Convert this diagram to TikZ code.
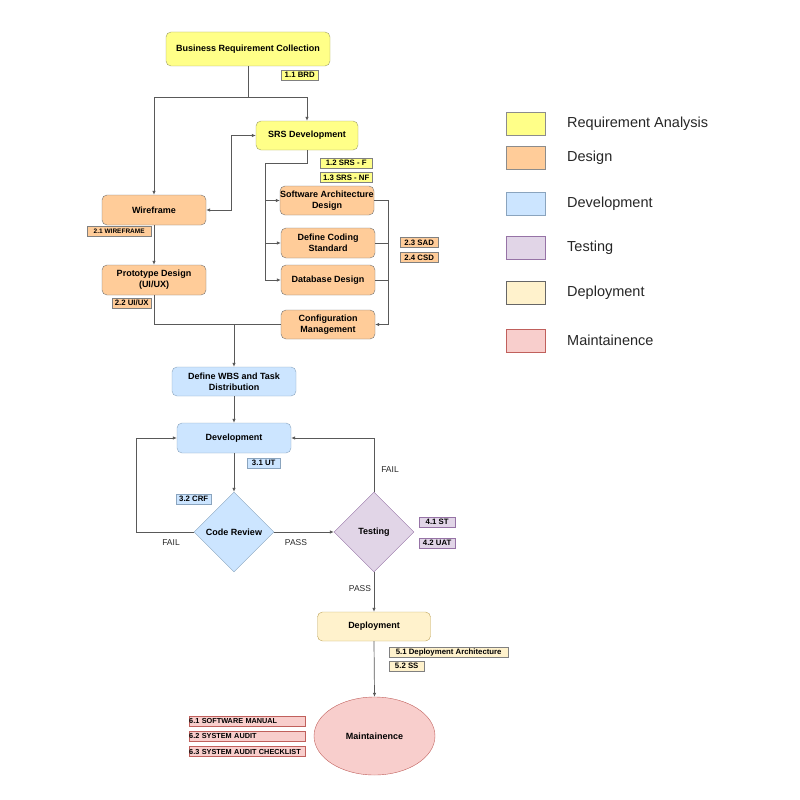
\documentclass[tikz,border=0pt]{standalone}
\usepackage{fontspec}
\setmainfont{Liberation Sans}
\usepackage{tikz}
\usetikzlibrary{arrows.meta,shapes.geometric}

\definecolor{gelb}{HTML}{FFFF88}
\definecolor{orange}{HTML}{FFCC99}
\definecolor{blau}{HTML}{CCE5FF}
\definecolor{lila}{HTML}{E1D5E7}
\definecolor{creme}{HTML}{FFF2CC}
\definecolor{rosa}{HTML}{F8CECC}
\definecolor{randgelb}{HTML}{9E9E6A}
\definecolor{randblau}{HTML}{8AA4BE}
\definecolor{randlila}{HTML}{9673A6}
\definecolor{randcreme}{HTML}{BFA45A}
\definecolor{randrosa}{HTML}{C0605C}

\begin{document}
\begin{tikzpicture}[x=1pt,y=-1pt,
  box/.style={draw=black!55, rounded corners=5pt, align=center, inner sep=0pt,
    font=\bfseries\fontsize{9}{11}\selectfont},
  tag/.style={draw=black!50, anchor=west, inner sep=0pt, minimum height=10pt,
    font=\bfseries\fontsize{7.8}{8}\selectfont},
  tagsechs/.style={tag, fill=rosa, draw=randrosa, minimum width=116pt, text width=116pt, align=left,
    font=\bfseries\fontsize{7.3}{8}\selectfont},
  beschr/.style={font=\fontsize{8.5}{9}\selectfont, text=black!85},
  line/.style={draw=black!65, line width=0.7pt},
  pfeil/.style={line, -{Latex[length=4pt,width=3.5pt]}},
  key/.style={minimum width=39pt, minimum height=23pt, inner sep=0pt},
]
\useasboundingbox (0,0) rectangle (800,800);

%Anforderungen
\node[box, fill=gelb, draw=randgelb, minimum width=164pt, minimum height=34pt] (brc) at (248,49) {Business Requirement Collection};
\node[tag, fill=gelb, minimum width=37pt] (brd) at (281,75) {1.1 BRD};
\node[box, fill=gelb, draw=randgelb, minimum width=102pt, minimum height=29pt] (srs) at (307,135.5) {SRS Development};
\node[tag, fill=gelb, minimum width=52pt] (srsf) at (320,163) {1.2 SRS - F};
\node[tag, fill=gelb, minimum width=52pt] (srsnf) at (320,177.5) {1.3 SRS - NF};

%Design
\node[box, fill=orange, minimum width=104pt, minimum height=30pt] (wire) at (154,210) {Wireframe};
\node[tag, fill=orange, minimum width=64pt, font=\bfseries\fontsize{6.5}{7}\selectfont] (wiretag) at (87,231.5) {2.1 WIREFRAME};
\node[box, fill=orange, minimum width=104pt, minimum height=30pt] (proto) at (154,280) {Prototype Design\\(UI/UX)};
\node[tag, fill=orange, minimum width=39pt] (uitag) at (112,303) {2.2 UI/UX};
\node[box, fill=orange, minimum width=94pt, minimum height=29pt] (sad) at (327,200.5) {Software Architecture\\Design};
\node[box, fill=orange, minimum width=94pt, minimum height=30pt] (dcs) at (328,243) {Define Coding\\Standard};
\node[box, fill=orange, minimum width=94pt, minimum height=30pt] (dbd) at (328,280) {Database Design};
\node[box, fill=orange, minimum width=94pt, minimum height=29pt] (cm) at (328,324.5) {Configuration\\Management};
\node[tag, fill=orange, minimum width=38pt] (sadtag) at (400,242.5) {2.3 SAD};
\node[tag, fill=orange, minimum width=38pt] (csdtag) at (400,257.5) {2.4 CSD};

%Entwicklung
\node[box, fill=blau, draw=randblau, minimum width=124pt, minimum height=29pt] (wbs) at (234,381.5) {Define WBS and Task\\Distribution};
\node[box, fill=blau, draw=randblau, minimum width=114pt, minimum height=30pt] (dev) at (234,438) {Development};
\node[tag, fill=blau, draw=randblau, minimum width=33pt] (ut) at (247,463) {3.1 UT};
\node[tag, fill=blau, draw=randblau, minimum width=35pt] (crf) at (176,499) {3.2 CRF};
\node[diamond, draw=randblau, fill=blau, minimum width=80pt, minimum height=80pt, inner sep=0pt,
  font=\bfseries\fontsize{9}{11}\selectfont] (cr) at (234,532) {Code Review};

%Test
\node[diamond, draw=randlila, fill=lila, minimum width=80pt, minimum height=80pt, inner sep=0pt,
  font=\bfseries\fontsize{9}{11}\selectfont] (test) at (374,532) {Testing};
\node[tag, fill=lila, draw=randlila, minimum width=36pt] (st) at (419,522) {4.1 ST};
\node[tag, fill=lila, draw=randlila, minimum width=36pt] (uat) at (419,543) {4.2 UAT};

%Deployment und Wartung
\node[box, fill=creme, draw=randcreme, minimum width=113pt, minimum height=29pt] (depl) at (374,626.5) {Deployment};
\node[tag, fill=creme, minimum width=119pt] (dparch) at (389,652) {5.1 Deployment Architecture};
\node[tag, fill=creme, minimum width=35pt] (ss) at (389,666) {5.2 SS};
\node[ellipse, draw=randrosa, fill=rosa, minimum width=121pt, minimum height=78pt, inner sep=0pt,
  font=\bfseries\fontsize{9}{11}\selectfont] (maint) at (374.5,736) {Maintainence};
\node[tagsechs] (sm) at (189,721) {6.1 SOFTWARE MANUAL};
\node[tagsechs] (sa) at (189,736) {6.2 SYSTEM AUDIT};
\node[tagsechs] (sac) at (189,751.5) {6.3 SYSTEM AUDIT CHECKLIST};

%Verbindungen
\coordinate (j1) at (248,97);
\draw[line] (brc.south) -- (j1);
\draw[pfeil] (j1) -| (srs.north);
\draw[pfeil] (j1) -| (wire.north);
\draw[line, {Latex[length=4pt,width=3.5pt]}-{Latex[length=4pt,width=3.5pt]}] (wire.east) -- ++(25,0) |- (srs.west);
\coordinate (j2) at (265,163);
\draw[line] (srs.south) |- (j2);
\draw[pfeil] (j2) |- (sad.west);
\draw[pfeil] (j2) |- (dcs.west);
\draw[pfeil] (j2) |- (dbd.west);
\draw[pfeil] (sad.east) -- ++(14,0) |- (cm.east);
\draw[line] (dcs.east) -- ++(13,0);
\draw[line] (dbd.east) -- ++(13,0);
\draw[pfeil] (wire.south) -- (proto.north);
\coordinate (j4) at (234,324.5);
\draw[line] (proto.south) |- (cm.west);
\draw[pfeil] (j4) -- (wbs.north);
\draw[pfeil] (wbs.south) -- (dev.north);
\draw[pfeil] (dev.south) -- (cr.north);
\draw[pfeil] (cr.west) -- ++(-57,0) |- (dev.west);
\draw[pfeil] (cr.east) -- (test.west);
\draw[pfeil] (test.north) |- (dev.east);
\draw[pfeil] (test.south) -- (depl.north);
\draw[pfeil] (depl.south) -- (maint.north);

%Beschriftung
\node[beschr] (fail1) at (171,543) {FAIL};
\node[beschr] (pass1) at (296,543) {PASS};
\node[beschr] (fail2) at (390,470) {FAIL};
\node[beschr] (pass2) at (360,589) {PASS};

%Legende
\foreach \y/\farbe/\rand/\name [count=\i] in {123.5/gelb/black!45/Requirement Analysis,
    157.5/orange/black!45/Design, 204/blau/randblau/Development, 247.5/lila/randlila/Testing,
    292.5/creme/black!60/Deployment, 340.5/rosa/randrosa/Maintainence}{
  \node[key, fill=\farbe, draw=\rand] (key\i) at (525.5,\y) {};
  \node[anchor=west, inner sep=0pt, font=\fontsize{14.5}{16}\selectfont, text=black!85] (keytext\i) at (567,\y) {\name};
}
\end{tikzpicture}
\end{document}
